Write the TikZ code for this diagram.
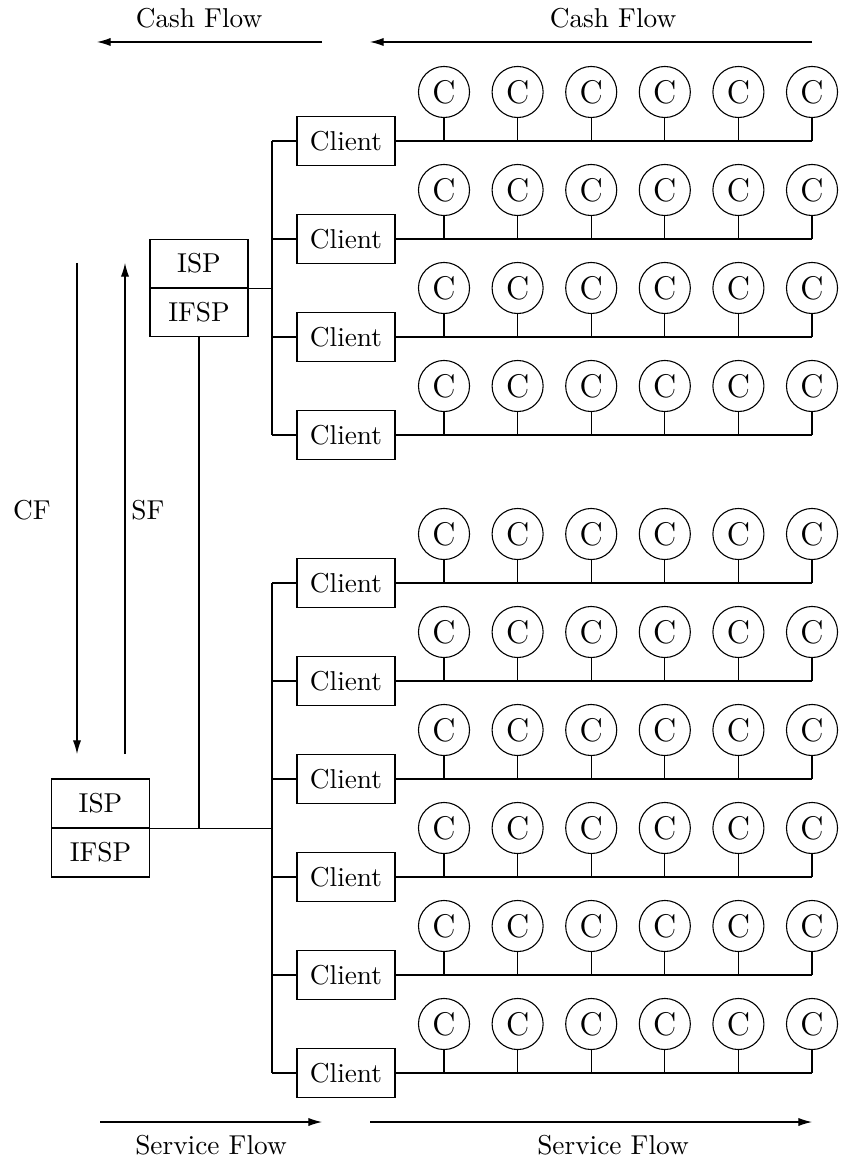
\documentclass[tikz,border=0pt]{standalone}
\usepackage{tikz}
\usetikzlibrary{arrows.meta, positioning, calc}

\begin{document}
\begin{tikzpicture}[
    x=0.3662pt, y=-0.3662pt,
    >={Latex[length=5pt, width=3pt]},
    box/.style={draw, minimum width=35.9pt, minimum height=17.9pt, inner sep=0pt},
    cust/.style={draw, circle, minimum size=18.7pt, inner sep=0pt, font=\large},
]
    \useasboundingbox (0,0) rectangle (843,1163);

    % Flow arrows on top and bottom
    \node (cashL) at (199,18) {Cash Flow};
    \node (cashR) at (613,18) {Cash Flow};
    \coordinate (cl1) at (322,42);  \coordinate (cl2) at (97,42);
    \coordinate (cr1) at (812,42);  \coordinate (cr2) at (370,42);
    \draw[->] (cl1) -- (cl2);
    \draw[->] (cr1) -- (cr2);

    \node (servL) at (211,1145) {Service Flow};
    \node (servR) at (613,1145) {Service Flow};
    \coordinate (sl1) at (100,1122); \coordinate (sl2) at (322,1122);
    \coordinate (sr1) at (370,1122); \coordinate (sr2) at (812,1122);
    \draw[->] (sl1) -- (sl2);
    \draw[->] (sr1) -- (sr2);

    % CF / SF
    \coordinate (cf1) at (77,263);  \coordinate (cf2) at (77,754);
    \coordinate (sf1) at (125,754); \coordinate (sf2) at (125,263);
    \draw[->] (cf1) -- (cf2);
    \draw[->] (sf1) -- (sf2);
    \node (cf) at (32,510) {CF};
    \node (sf) at (148,510) {SF};

    % Bus lines
    \coordinate (bus) at (272,0);

    % Upper provider
    \node[box] (ispA) at (199,263.5) {ISP};
    \node[box] (ifspA) at (199,312.5) {IFSP};

    % Lower provider
    \node[box, semithick] (ispB) at (100.5,803.5) {ISP};
    \node[box, semithick] (ifspB) at (100.5,852.5) {IFSP};

    % Client rows with customers
    \foreach \i/\y in {1/141, 2/239, 3/337, 4/435, 5/583, 6/681, 7/779, 8/877, 9/975, 10/1073} {
        \node[box] (cl-\i) at (346,\y) {Client};
        \draw (cl-\i.west) -- (cl-\i.west -| bus);
        \foreach \k in {0,...,5} {
            \node[cust] (c-\i-\k) at ({444+73.6*\k},{\y-49}) {C};
            \draw (c-\i-\k.south) -- (c-\i-\k.south |- cl-\i.east);
        }
        \draw (cl-\i.east) -- (cl-\i.east -| c-\i-5.south);
    }

    \draw (cl-1.west -| bus) -- (cl-4.west -| bus);
    \draw (cl-5.west -| bus) -- (cl-10.west -| bus);

    \draw (ispA.south east) -- (ispA.south east -| bus);
    \draw (ispB.south east) -- (ispB.south east -| bus);
    \draw (ifspA.south) -- (ifspA.south |- ispB.south east);
\end{tikzpicture}
\end{document}
